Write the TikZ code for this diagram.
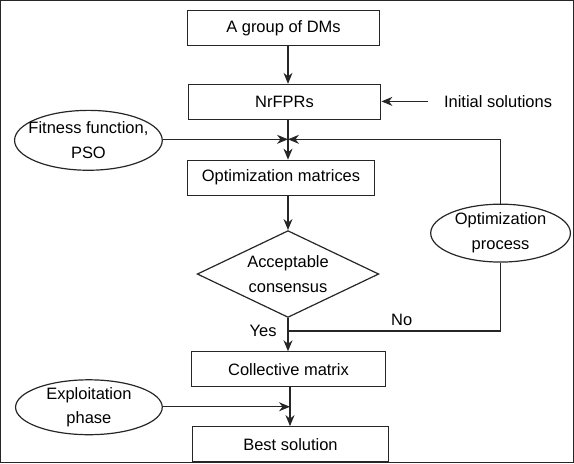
\documentclass[tikz,border=0pt]{standalone}
\usepackage{fontspec}
\setmainfont{Liberation Sans}
\usetikzlibrary{shapes.geometric,arrows.meta,calc}
\begin{document}
\begin{tikzpicture}[x=1pt,y=-1pt,
  font=\fontsize{16.5}{25}\selectfont,
  line width=1.2pt,
  every path/.style={draw=black!85},
  box/.style={draw=black!85, rectangle, inner sep=0pt, minimum height=35pt},
  ell/.style={draw=black!85, ellipse, inner sep=0pt},
  arr/.style={-{Stealth[length=11pt,width=9pt,inset=3.5pt]}},
  lab/.style={align=center, inner sep=0pt}]
\useasboundingbox (0,0) rectangle (574,463);
% column guides
\coordinate (col) at (288,0);
\coordinate (col2) at (290,0);
% boxes
\node[box, minimum width=193pt] (A) at (283.5,27.5) {A group of DMs};
\node[box, minimum width=193pt] (N) at (284.5,101.5) {NrFPRs};
\node[box, minimum width=188pt] (O) at (281,177.5) {Optimization matrices};
\node[draw=black!85, diamond, inner sep=0pt, minimum width=182pt, minimum height=87pt,
      label={[lab]center:Acceptable\\consensus}] (D) at (288,274) {};
\node[box, minimum width=195pt] (C) at (288.5,369.5) {Collective matrix};
\node[box, minimum width=197pt] (B) at (290.5,444.5) {Best solution};
% ellipses
\node[ell, minimum width=148pt, minimum height=60pt,
      label={[lab]center:Fitness function,\\PSO}] (F) at (88,140) {};
\node[ell, minimum width=140pt, minimum height=58pt,
      label={[lab]center:Optimization\\process}] (P) at (501,233) {};
\node[ell, minimum width=147pt, minimum height=55pt,
      label={[lab]center:Exploitation\\phase}] (E) at (88.5,407.5) {};
% free labels
\node[inner sep=0pt] (I) at (498.5,101) {Initial solutions};
\node[inner sep=0pt] (yes) at (263,331) {Yes};
\node[inner sep=0pt] (no) at (402,320) {No};
% junctions
\coordinate (J) at (288,139);
\coordinate (K) at (288,331);
\coordinate (M) at (290,407);
% connectors
\draw[arr] (A.south -| col) -- (N.north -| col);
\draw[arr] ([xshift=-15pt]I.west) -- (N.east |- I.west);
\draw[arr] (N.south -| col) -- (O.north -| col);
\draw[arr] (F.east |- J) -- (J);
\draw[arr] (P.north) |- (J);
\draw[arr] (O.south -| col) -- (D.north);
\draw[arr] (D.south) -- (C.north -| D.south);
\draw (P.south) |- (K);
\draw[arr] (C.south -| col2) -- (B.north -| col2);
\draw[arr] (E.east |- M) -- (M);
\end{tikzpicture}
\end{document}
